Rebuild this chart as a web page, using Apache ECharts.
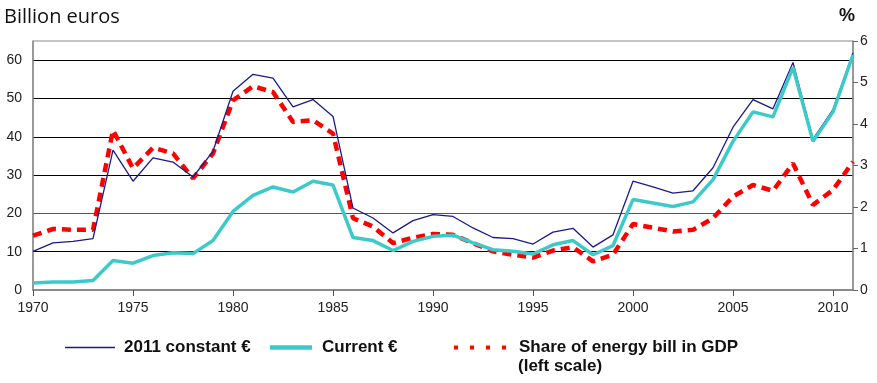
<!DOCTYPE html>
<html>
<head>
<meta charset="utf-8">
<script src="https://cdn.jsdelivr.net/npm/echarts@6/dist/echarts.min.js"></script>
<style>html,body{margin:0;padding:0;background:#fff}#c{width:877px;height:383px}</style>
</head>
<body>
<div id="c"></div>
<script>
var years = [];
for (var y = 1970; y <= 2011; y++) years.push(y);
var constant2011 = [10.1,12.3,12.7,13.4,36.5,28.4,34.5,33.4,29.5,36.2,51.9,56.3,55.3,47.8,49.7,45.3,21.4,18.8,14.9,18.1,19.7,19.2,16.2,13.7,13.4,12.0,15.1,16.1,11.2,14.4,28.4,26.9,25.3,25.9,31.9,42.5,49.7,47.3,59.4,39.4,47.1,61.9];
var currentEuro = [1.8,2.1,2.1,2.5,7.7,7.0,9.0,9.7,9.5,12.9,20.5,24.7,26.9,25.6,28.4,27.4,13.7,12.9,10.3,12.7,14.0,14.3,12.3,10.5,10.1,9.4,11.8,12.9,9.2,11.6,23.6,22.7,21.8,23.0,28.8,38.8,46.5,45.2,58.1,38.8,46.5,61.4];
var shareGDP = [1.31,1.47,1.45,1.45,3.85,2.93,3.43,3.29,2.69,3.29,4.57,4.91,4.77,4.05,4.09,3.77,1.73,1.53,1.13,1.26,1.35,1.33,1.13,0.93,0.85,0.78,0.95,1.03,0.69,0.85,1.59,1.50,1.41,1.45,1.73,2.25,2.53,2.39,3.05,2.05,2.41,3.09];
var leftTicks = [0,10,20,30,40,50,60];
var rightTicks = [0,1,2,3,4,5,6];
var xTicks = [1970,1975,1980,1985,1990,1995,2000,2005,2010];

function pairs(arr){ return years.map(function(yr,i){ return [yr, arr[i]]; }); }

var chart = echarts.init(document.getElementById('c'), null, {renderer:'canvas'});
var lblFont = {fontFamily:'Liberation Sans, Arial, sans-serif', fontSize:14, color:'#222'};
var legFam = '"Liberation Sans", Arial, sans-serif';
function legText(pl){ return {fontFamily:legFam, fontSize:17, fontWeight:'bold', color:'#111', padding:[0,0,0,pl]}; }
chart.setOption({
  animation:false,
  backgroundColor:'#fff',
  grid:{left:33, right:24, top:41, bottom:93, show:true, borderColor:'#8a8a8a', borderWidth:1},
  title:[
    {text:'Billion euros', left:4, top:7, padding:0, textStyle:{fontFamily:'Open Sans, Noto Sans, sans-serif', fontSize:20, fontWeight:'normal', color:'#111'}},
    {text:'%', left:839, top:7, padding:0, textStyle:{fontFamily:'Liberation Sans, Arial, sans-serif', fontSize:18, fontWeight:'bold', color:'#111'}}
  ],
  xAxis:{
    type:'value', min:1970, max:2011, interval:5,
    axisLine:{show:true, onZero:false, lineStyle:{color:'#8a8a8a', width:2}},
    axisTick:{show:true, length:6, lineStyle:{color:'#555'}},
    axisLabel:Object.assign({margin:11, showMaxLabel:false, formatter:function(v){return xTicks.indexOf(v)>=0? String(v):'';}}, lblFont),
    splitLine:{show:false}
  },
  yAxis:[
    {type:'value', min:0, max:65, interval:10, position:'left',
     axisLine:{show:true, lineStyle:{color:'#8a8a8a', width:1.5}},
     axisTick:{show:false},
     axisLabel:Object.assign({margin:11, showMaxLabel:false, formatter:function(v){return leftTicks.indexOf(v)>=0? String(v):'';}}, lblFont),
     splitLine:{show:true, showMinLine:false, showMaxLine:false, lineStyle:{color:['#000','#555','#000','#000','#000','#000','#000'], width:1}}},
    {type:'value', min:0, max:6, interval:1, position:'right',
     axisLine:{show:true, lineStyle:{color:'#8a8a8a', width:1.5}},
     axisTick:{show:true, inside:false, length:5, lineStyle:{color:'#666'}},
     axisLabel:Object.assign({margin:7, formatter:function(v){return rightTicks.indexOf(v)>=0? String(v):'';}}, lblFont),
     splitLine:{show:false}}
  ],
  legend:[
    {data:['2011 constant €'], left:65, top:339, padding:0, icon:'rect', itemWidth:50, itemHeight:1.5, textStyle:legText(4)},
    {data:['Current €'], left:270, top:339, padding:0, icon:'rect', itemWidth:42, itemHeight:4.5, textStyle:legText(5)},
    {data:['Share of energy bill in GDP'], left:454, top:339, padding:0,
     icon:'path://M0,0h4v4h-4zM16,0h4v4h-4zM32,0h4v4h-4zM48,0h4v4h-4z', itemWidth:52, itemHeight:4.5, textStyle:legText(8)}
  ],
  graphic:[
    {type:'text', left:518, top:358, style:{text:'(left scale)', font:'bold 17px ' + legFam, fill:'#111'}}
  ],
  series:[
    {name:'Share of energy bill in GDP', type:'line', yAxisIndex:1, data:pairs(shareGDP), symbol:'none', z:3,
     lineStyle:{color:'#ff0000', width:4.5, type:[9,6], cap:'butt'}, itemStyle:{color:'#ff0000'}},
    {name:'2011 constant €', type:'line', yAxisIndex:0, data:pairs(constant2011), symbol:'none', z:4,
     lineStyle:{color:'#1a1a8a', width:1.3}, itemStyle:{color:'#1a1a8a'}},
    {name:'Current €', type:'line', yAxisIndex:0, data:pairs(currentEuro), symbol:'none', z:5,
     lineStyle:{color:'#3ccac8', width:3.5}, itemStyle:{color:'#3ccac8'}}
  ]
});
</script>
</body>
</html>
